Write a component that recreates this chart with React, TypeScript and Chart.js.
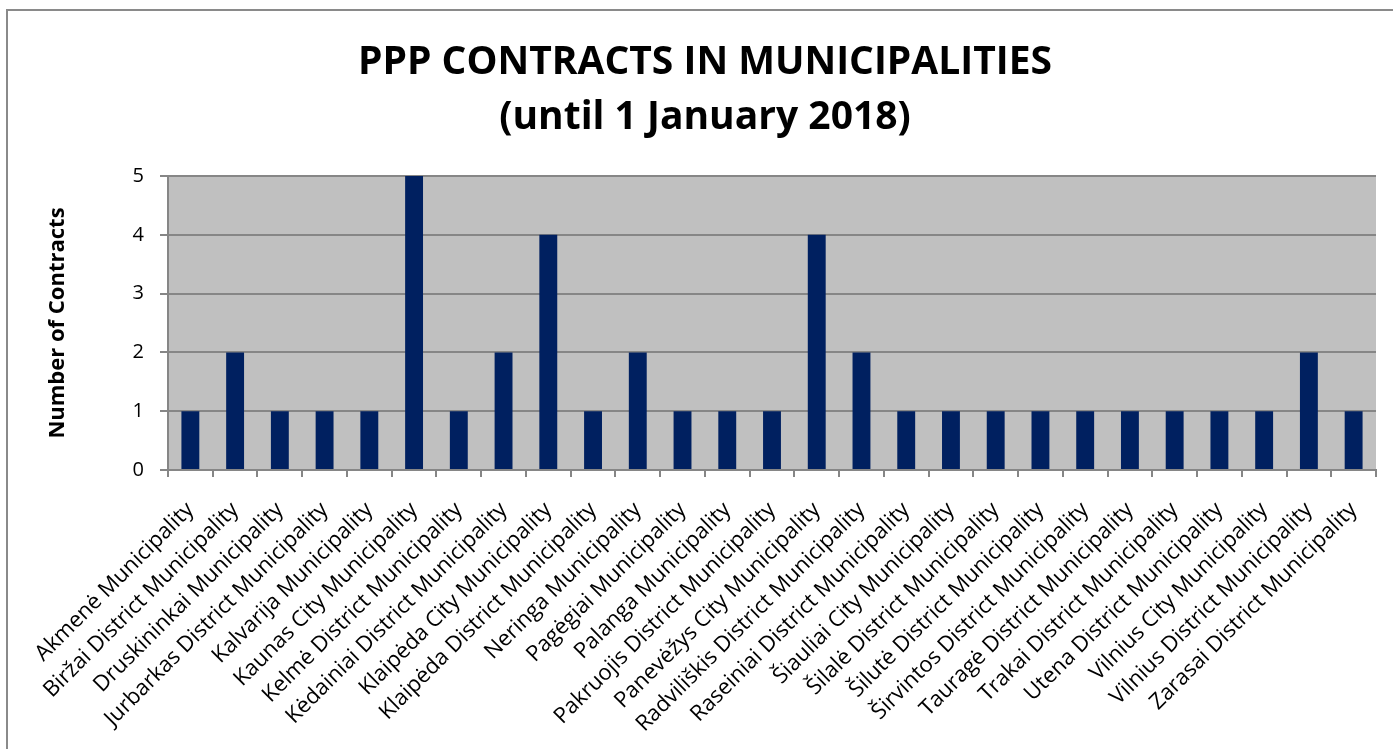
import React, { useEffect, useRef } from "react";
import { Chart, registerables } from "chart.js";

Chart.register(...registerables);

const categories = [
  "Akmenė Municipality",
  "Biržai District Municipality",
  "Druskininkai Municipality",
  "Jurbarkas District Municipality",
  "Kalvarija Municipality",
  "Kaunas City Municipality",
  "Kelmė District Municipality",
  "Kėdainiai District Municipality",
  "Klaipėda City Municipality",
  "Klaipėda District Municipality",
  "Neringa Municipality",
  "Pagėgiai Municipality",
  "Palanga Municipality",
  "Pakruojis District Municipality",
  "Panevėžys City Municipality",
  "Radviliškis District Municipality",
  "Raseiniai District Municipality",
  "Šiauliai City Municipality",
  "Šilalė District Municipality",
  "Šilutė District Municipality",
  "Širvintos District Municipality",
  "Tauragė District Municipality",
  "Trakai District Municipality",
  "Utena District Municipality",
  "Vilnius City Municipality",
  "Vilnius District Municipality",
  "Zarasai District Municipality",
];

const contracts = [1, 2, 1, 1, 1, 5, 1, 2, 4, 1, 2, 1, 1, 1, 4, 2, 1, 1, 1, 1, 1, 1, 1, 1, 1, 2, 1];

const titleLines = ["PPP CONTRACTS IN MUNICIPALITIES", "(until 1 January 2018)"];
const yAxisTitle = "Number of Contracts";

const FONT = "'Open Sans', 'Noto Sans', sans-serif";

const plotBg = {
  id: "plotBg",
  beforeDraw(chart: any) {
    const { ctx, chartArea } = chart;
    ctx.save();
    ctx.fillStyle = "#C0C0C0";
    ctx.fillRect(chartArea.left, chartArea.top, chartArea.right - chartArea.left, chartArea.bottom - chartArea.top);
    ctx.restore();
  },
};

export default function App() {
  const ref = useRef<HTMLCanvasElement | null>(null);
  useEffect(() => {
    if (!ref.current) return;
    const chart = new Chart(ref.current, {
      type: "bar",
      data: {
        labels: categories,
        datasets: [
          {
            data: contracts,
            backgroundColor: "#002060",
            categoryPercentage: 1,
            barPercentage: 0.4,
          },
        ],
      },
      plugins: [plotBg],
      options: {
        animation: false,
        responsive: true,
        maintainAspectRatio: false,
        layout: { padding: { left: 34, right: 17, top: 0, bottom: 0 } },
        plugins: {
          legend: { display: false },
          tooltip: { enabled: false },
          title: {
            display: true,
            text: titleLines,
            color: "#000",
            font: { family: FONT, size: 39, weight: "bold", lineHeight: "55px" },
            padding: { top: 35, bottom: 31 },
          },
        },
        scales: {
          x: {
            afterFit(scale: any) {
              scale.height = 279;
            },
            grid: {
              drawOnChartArea: false,
              tickColor: "#868686",
              tickLength: 7,
              lineWidth: 2,
            },
            border: { display: true, color: "#868686", width: 2 },
            ticks: {
              autoSkip: false,
              minRotation: 45,
              maxRotation: 45,
              color: "#000",
              font: { family: FONT, size: 22 },
              padding: 20,
            },
          },
          y: {
            min: 0,
            max: 5,
            afterFit(scale: any) {
              scale.width = 134;
            },
            grid: {
              color: "#868686",
              lineWidth: 2,
              tickLength: 8,
            },
            border: { display: true, color: "#868686", width: 2 },
            ticks: {
              stepSize: 1,
              color: "#000",
              font: { family: FONT, size: 20 },
              padding: 16,
            },
            title: {
              display: true,
              text: yAxisTitle,
              color: "#000",
              font: { family: FONT, size: 22, weight: "bold" },
              padding: { top: 11, bottom: 0 },
            },
          },
        },
      },
    } as any);
    return () => chart.destroy();
  }, []);

  return (
    <div style={{ position: "fixed", left: 0, top: 0, width: 1393, height: 749, background: "#fff" }}>
      <div
        style={{
          position: "absolute",
          left: 6,
          top: 9,
          width: 1450,
          height: 800,
          border: "2px solid #8a8a8a",
          boxSizing: "border-box",
        }}
      />
      <div style={{ position: "absolute", left: 0, top: 0, width: 1393, height: 749 }}>
        <canvas ref={ref} />
      </div>
    </div>
  );
}
